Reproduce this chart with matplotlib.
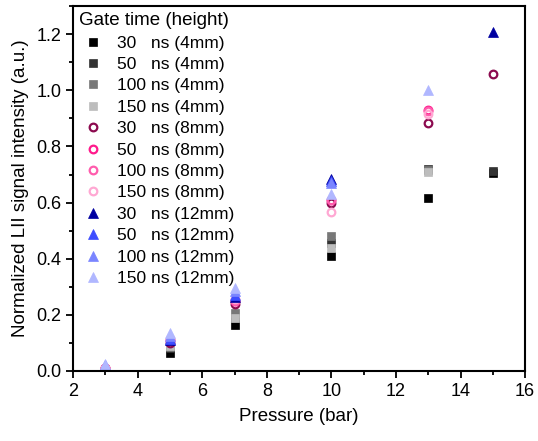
import numpy as np
import matplotlib
matplotlib.use("Agg")
import matplotlib.pyplot as plt
from matplotlib.ticker import MultipleLocator

plt.rcParams["font.family"] = ["Liberation Sans", "DejaVu Sans"]

pressure = [3, 5, 7, 10, 13, 15]

# 4 mm height (squares)
sq_30 = [0.003, 0.065, 0.163, 0.41, 0.615, 0.705]
sq_50 = [0.004, 0.08, 0.19, 0.455, 0.72, 0.712]
sq_100 = [0.005, 0.085, 0.205, 0.48, 0.715, None]
sq_150 = [0.005, 0.09, 0.19, 0.437, 0.71, None]

# 8 mm height (open circles)
ci_30 = [0.01, 0.10, 0.24, 0.60, 0.883, 1.057]
ci_50 = [0.01, 0.11, 0.25, 0.608, 0.93, None]
ci_100 = [0.01, 0.11, 0.25, 0.61, 0.925, None]
ci_150 = [0.012, 0.115, 0.255, 0.566, 0.915, None]

# 12 mm height (triangles)
tr_30 = [0.018, 0.11, 0.262, 0.685, None, 1.208]
tr_50 = [0.02, 0.115, 0.27, 0.678, None, None]
tr_100 = [0.022, 0.125, 0.285, 0.668, None, None]
tr_150 = [0.025, 0.135, 0.295, 0.632, 1.002, None]

gates = ["30   ns", "50   ns", "100 ns", "150 ns"]
sq_colors = ["#000000", "#333333", "#787878", "#bdbdbd"]
ci_colors = ["#8c0a4f", "#ff1a8c", "#ff5cad", "#ffa8d3"]
tr_colors = ["#0000a0", "#3d4dff", "#7a85ff", "#b0b7ff"]

fig = plt.figure(figsize=(5.38, 4.41), dpi=100)
ax = fig.add_axes([0.136, 0.159, 0.84, 0.827])


def pts(vals):
    xs = [p for p, v in zip(pressure, vals) if v is not None]
    ys = [v for v in vals if v is not None]
    return xs, ys


for vals, c, g in zip([sq_30, sq_50, sq_100, sq_150], sq_colors, gates):
    xs, ys = pts(vals)
    ax.plot(xs, ys, ls="none", marker="s", ms=5.5, mfc=c, mec=c, mew=0.5, label=f"{g} (4mm)")

for vals, c, g in zip([ci_30, ci_50, ci_100, ci_150], ci_colors, gates):
    xs, ys = pts(vals)
    ax.plot(xs, ys, ls="none", marker="o", ms=5.5, mfc="none", mec=c, mew=1.6, label=f"{g} (8mm)")

for vals, c, g in zip([tr_30, tr_50, tr_100, tr_150], tr_colors, gates):
    xs, ys = pts(vals)
    ax.plot(xs, ys, ls="none", marker="^", ms=7.5, mfc=c, mec=c, mew=0.5, label=f"{g} (12mm)")

ax.set_xlim(2, 16)
ax.set_ylim(0, 1.3)
ax.set_xticks(np.arange(2, 17, 2))
ax.set_yticks(np.arange(0, 1.21, 0.2))
ax.xaxis.set_minor_locator(MultipleLocator(1))
ax.yaxis.set_minor_locator(MultipleLocator(0.1))
ax.tick_params(which="both", direction="out", width=1.3, labelsize=13)
ax.tick_params(which="major", length=5)
ax.tick_params(which="minor", length=3)
ax.yaxis.set_major_formatter(matplotlib.ticker.FormatStrFormatter("%.1f"))
for s in ax.spines.values():
    s.set_linewidth(1.5)

ax.set_xlabel("Pressure (bar)", fontsize=13.5, labelpad=6)
ax.set_ylabel("Normalized LII signal intensity (a.u.)", fontsize=13.5, labelpad=5)

leg = ax.legend(title="Gate time (height)", loc="upper left", frameon=False,
                fontsize=12.5, title_fontsize=13.5, alignment="left",
                labelspacing=0.36, handletextpad=0.6, handlelength=1.6,
                borderaxespad=0.1, borderpad=0.25)

fig.savefig("out.png", dpi=100)
